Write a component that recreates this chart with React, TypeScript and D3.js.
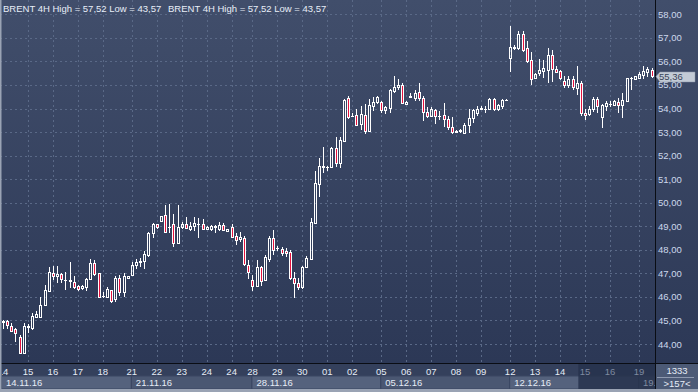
import React from 'react';
import * as d3 from 'd3';

const opens = [44.95,44.98,44.78,44.62,44.3,43.62,44.74,44.67,45.16,45.16,45.66,46.26,47.01,46.9,46.97,46.72,46.68,46.63,46.46,46.37,46.43,46.76,47.44,47.0,46.02,46.0,46.29,45.9,46.82,46.22,46.8,46.93,47.35,47.5,47.54,47.78,48.7,49.08,49.24,49.48,48.95,49.08,48.28,48.95,49.1,48.88,49.0,49.1,49.08,48.87,48.9,48.98,48.9,49.05,48.78,48.98,48.6,48.45,48.5,47.35,46.73,46.48,47.26,46.72,47.6,48.5,48.06,48.03,47.96,47.92,46.82,46.6,46.4,47.28,47.6,49.15,50.8,51.53,51.53,51.53,52.31,51.67,52.63,54.43,53.68,53.72,53.33,53.72,53.06,54.12,54.26,54.26,53.93,54.03,54.76,54.92,55.0,54.18,54.5,54.43,54.68,54.43,53.87,53.7,53.94,53.68,53.72,53.55,53.2,53.0,53.06,52.98,53.3,53.58,53.82,53.96,53.97,53.97,54.39,53.97,54.1,54.36,56.13,56.58,56.55,57.16,56.58,56.06,55.28,55.5,55.59,55.64,56.27,55.68,55.6,55.18,55.0,55.25,54.88,55.07,53.82,53.75,53.98,54.4,53.65,54.1,54.18,54.15,54.28,54.15,54.32,55.3,55.25,55.3,55.41,55.53,55.63];
const highs = [45.02,45.02,44.9,44.7,44.4,44.9,44.85,45.3,45.4,46.0,46.5,47.25,47.3,47.3,47.0,47.05,47.5,46.9,46.5,46.5,46.8,47.6,47.55,47.0,46.2,46.4,46.29,46.9,46.95,47.0,46.9,47.5,47.6,47.67,47.95,48.75,49.15,49.1,49.45,49.9,49.93,49.5,49.9,49.2,49.4,49.2,49.4,49.36,49.3,49.0,49.07,49.05,49.2,49.15,48.9,49.1,48.7,48.75,48.6,47.55,46.95,47.55,47.3,47.78,48.6,48.83,48.15,48.1,48.08,48.0,47.07,46.8,47.3,47.74,49.34,51.35,51.9,52.35,51.55,52.35,52.8,52.8,54.4,54.55,53.8,54.0,54.1,54.2,54.4,54.5,54.55,54.3,54.1,54.82,55.4,55.25,55.1,54.3,54.65,54.8,55.1,54.55,54.05,54.05,54.0,53.9,54.25,53.7,53.65,53.1,53.15,53.4,54.0,54.0,54.1,54.1,54.1,54.45,54.45,54.2,54.4,54.42,57.52,56.7,57.3,57.3,56.85,56.4,55.5,56.1,56.05,56.55,56.48,55.8,55.65,55.4,55.4,55.4,55.8,55.15,53.97,54.1,54.5,54.5,54.2,54.3,54.3,54.35,54.45,54.65,55.3,55.35,55.4,55.55,55.8,55.76,55.7];
const lows = [44.62,44.62,44.5,44.1,43.57,43.57,44.45,44.6,45.1,45.1,45.6,46.2,46.7,46.6,46.6,46.3,46.38,46.35,46.25,46.3,46.27,46.7,46.9,46.0,45.95,45.95,45.73,45.8,46.05,46.0,46.75,46.93,47.2,47.25,47.2,47.7,48.5,48.9,49.24,48.72,48.73,48.1,48.25,48.9,48.9,48.8,48.8,48.5,48.85,48.85,48.8,48.7,48.8,48.8,48.75,48.56,48.2,48.35,47.3,46.75,46.25,46.44,46.45,46.7,47.5,47.8,47.95,47.75,47.7,46.7,45.94,46.3,46.35,47.26,47.56,49.13,50.25,51.25,51.35,51.5,51.5,51.48,52.63,53.55,53.63,53.25,53.1,52.9,53.05,53.9,54.2,53.8,53.75,53.8,54.67,54.8,54.2,54.15,54.45,54.3,54.3,53.45,53.6,53.65,53.35,53.5,53.2,53.1,52.93,52.95,52.95,52.93,52.98,53.4,53.7,53.92,53.8,53.97,53.9,53.9,54.0,54.3,55.56,56.5,56.5,56.4,55.95,55.0,55.25,55.4,55.3,55.1,55.14,55.5,55.2,54.85,54.85,54.8,54.57,53.68,53.5,53.7,53.85,53.8,53.17,53.9,54.05,54.1,53.8,53.6,54.3,54.8,55.2,55.25,55.25,55.35,55.3];
const closes = [44.98,44.79,44.55,44.45,43.62,44.76,44.76,45.19,45.27,45.66,46.29,47.06,46.9,46.97,46.75,46.7,46.7,46.43,46.32,46.46,46.76,47.44,46.97,46.0,46.04,46.32,45.83,46.82,46.22,46.89,46.89,47.35,47.5,47.52,47.81,48.7,49.1,48.98,49.44,48.74,48.97,48.28,48.96,49.1,48.94,49.02,49.15,49.11,48.9,48.98,49.0,48.99,49.05,48.82,48.88,48.56,48.42,48.55,47.38,47.07,46.46,47.28,46.69,47.7,48.5,48.0,48.06,47.88,47.85,46.79,46.58,46.4,47.28,47.64,49.2,50.85,51.56,51.55,51.5,52.31,51.67,52.66,54.36,53.65,53.69,53.3,53.77,53.06,54.15,54.29,54.5,53.94,54.05,54.78,54.9,55.0,54.25,54.29,54.55,54.64,54.46,53.87,53.68,53.96,53.7,53.69,53.55,53.2,52.99,53.05,53.08,53.3,53.58,53.94,53.97,54.03,53.98,54.39,53.97,54.15,54.36,54.37,56.6,56.6,57.16,56.48,56.03,55.25,55.45,55.63,55.7,56.27,55.68,55.57,55.28,55.0,55.25,54.92,55.07,53.8,53.72,53.98,54.4,54.12,54.15,54.25,54.19,54.32,54.15,54.35,55.28,55.3,55.38,55.45,55.6,55.67,55.36];

const priceTicks = [44, 45, 46, 47, 48, 49, 50, 51, 52, 53, 54, 55, 56, 57, 58];
const dayLabels = ['14','15','16','17','18','21','22','23','24','24','28','29','30','01','02','05','06','07','08','09','12','13','14','15','16','19'];
const dayIndex = [0,6,12,18,24,31,37,43,49,55,60,66,72,78,84,91,97,103,109,115,122,128,134,140,146,153];
const weekLabels = ['14.11.16','21.11.16','28.11.16','05.12.16','12.12.16','19.'];
const weekIndex = [0,31,60,91,122,153];
const headerText = 'BRENT 4H High = 57,52 Low = 43,57';
const lastPrice = 55.36;
const cornerTop = '1333';
const cornerBottom = '>157<';

const W = 698, H = 392;
const PR = 655, PB = 363;
const FONT = '"Liberation Sans", Arial, sans-serif';
const fmt = (v: number) => v.toFixed(2).replace('.', ',');

export default function App() {
  const n = opens.length;
  const x = d3.scaleLinear().domain([0, n - 1]).range([3, 651.5]);
  const y = d3.scaleLinear().domain([44, 58]).range([344, 14.3]);
  const dimStart = x(139) - 2.5;

  const candles = d3.range(n).map((i) => {
    const cx = Math.round(x(i));
    const o = opens[i], c = closes[i];
    const top = Math.round(y(Math.max(o, c)));
    const bot = Math.round(y(Math.min(o, c)));
    const hy = Math.round(y(highs[i]));
    const ly = Math.round(y(lows[i]));
    const down = c < o;
    const els: any[] = [];
    if (hy < top) els.push(<line key="h" x1={cx + 0.5} x2={cx + 0.5} y1={hy} y2={top} stroke="#fff" strokeWidth={1} />);
    if (ly > bot) els.push(<line key="l" x1={cx + 0.5} x2={cx + 0.5} y1={bot + 1} y2={ly} stroke="#fff" strokeWidth={1} />);
    if (bot - top < 2) {
      els.push(<line key="b" x1={cx - 1} x2={cx + 2} y1={top + 0.5} y2={top + 0.5} stroke="#fff" strokeWidth={1} />);
      if (bot - top === 1) els.push(<line key="b2" x1={cx - 1} x2={cx + 2} y1={bot + 0.5} y2={bot + 0.5} stroke="#fff" strokeWidth={1} />);
    } else {
      els.push(<rect key="r" x={cx - 0.5} y={top + 0.5} width={2} height={bot - top} fill={down ? '#e4123e' : 'none'} stroke="#fff" strokeWidth={1} />);
    }
    return <g key={i}>{els}</g>;
  });

  return (
    <svg width={W} height={H} style={{ position: 'absolute', left: 0, top: 0 }} fontFamily={FONT}>
      <defs>
        <linearGradient id="bg" x1="0" y1="0" x2="0" y2="1">
          <stop offset="0" stopColor="#414e6b" />
          <stop offset="1" stopColor="#2c3856" />
        </linearGradient>
        <clipPath id="plot"><rect x={1} y={0} width={PR - 1} height={PB} /></clipPath>
        <clipPath id="axis"><rect x={2} y={PB} width={PR - 2} height={H - PB} /></clipPath>
      </defs>
      <rect x={0} y={0} width={W} height={PB} fill="url(#bg)" />
      <g clipPath="url(#plot)">
        {priceTicks.map((v) => (
          <line key={v} x1={0} x2={PR} y1={Math.round(y(v)) + 0.5} y2={Math.round(y(v)) + 0.5} stroke="#5a6987" strokeDasharray="2,3" />
        ))}
        {dayIndex.slice(1).map((d, k) => (
          <line key={k} x1={Math.round(x(d)) + 0.5} x2={Math.round(x(d)) + 0.5} y1={0} y2={PB} stroke="#5a6987" strokeDasharray="2,3" />
        ))}
        {candles}
      </g>
      <text x={3} y={11.5} fontSize={9.5} fill="#e8eef8">{headerText}</text>
      <text x={168} y={11.5} fontSize={9.5} fill="#e8eef8">{headerText}</text>

      {/* right axis */}
      <line x1={PR + 0.5} x2={PR + 0.5} y1={0} y2={PB} stroke="#0a0d14" />
      {priceTicks.map((v) => (
        <text key={v} x={658} y={y(v) + 3.5} fontSize={9.5} fill="#cdd8ec">{fmt(v)}</text>
      ))}
      <path d={`M${PR + 1},${y(lastPrice)} L${PR + 5},${y(lastPrice) - 4.5} L${695},${y(lastPrice) - 4.5} L${695},${y(lastPrice) + 5.5} L${PR + 5},${y(lastPrice) + 5.5} Z`} fill="#c3cbd6" stroke="#8a94a6" strokeWidth={0.5} />
      <text x={659} y={y(lastPrice) + 4} fontSize={9.5} fill="#3a4456">{fmt(lastPrice)}</text>

      {/* bottom axis */}
      <rect x={0} y={PB} width={W} height={H - PB} fill="#34405c" />
      <g clipPath="url(#axis)">
        {weekIndex.map((w, k) => {
          const x0 = k === 0 ? 0 : x(w) - 0.5;
          const x1 = k < weekIndex.length - 1 ? x(weekIndex[k + 1]) - 0.5 : PR;
          return <rect key={k} x={x0} y={376} width={x1 - x0} height={13} fill={k % 2 === 0 ? '#55627d' : '#4a5772'} stroke="#3a4662" strokeWidth={1} />;
        })}
        <rect x={dimStart} y={PB} width={PR - dimStart} height={26} fill="#27324c" opacity={0.85} />
        {dayLabels.map((t, k) => (
          <text key={k} x={x(dayIndex[k])} y={374.5} fontSize={9.5} textAnchor="middle" fill={dayIndex[k] >= 139 ? '#7f8aa0' : '#e6ecf6'}>{t}</text>
        ))}
        {weekLabels.map((t, k) => (
          <text key={k} x={(k === 0 ? 2 : x(weekIndex[k])) + 4} y={386} fontSize={9.5} fill={weekIndex[k] >= 139 ? '#7f8aa0' : '#e6ecf6'}>{t}</text>
        ))}
      </g>
      <line x1={0} x2={W} y1={PB + 0.5} y2={PB + 0.5} stroke="#0a0d14" />
      <rect x={PR + 1} y={PB + 1} width={W - PR - 1} height={H - PB - 1} fill="#4c5a76" />
      <line x1={PR + 0.5} x2={PR + 0.5} y1={PB} y2={H} stroke="#0a0d14" />
      <text x={677} y={374} fontSize={9.5} textAnchor="middle" fill="#e6ecf6">{cornerTop}</text>
      <line x1={657} x2={694} y1={377.5} y2={377.5} stroke="#8f9ab0" />
      <text x={677} y={386.5} fontSize={9.5} textAnchor="middle" fill="#e6ecf6">{cornerBottom}</text>
      {/* frame */}
      <rect x={0} y={389} width={W} height={3} fill="#9aa3b4" />
      <rect x={0} y={0} width={1.5} height={H} fill="#9aa3b4" />
    </svg>
  );
}
